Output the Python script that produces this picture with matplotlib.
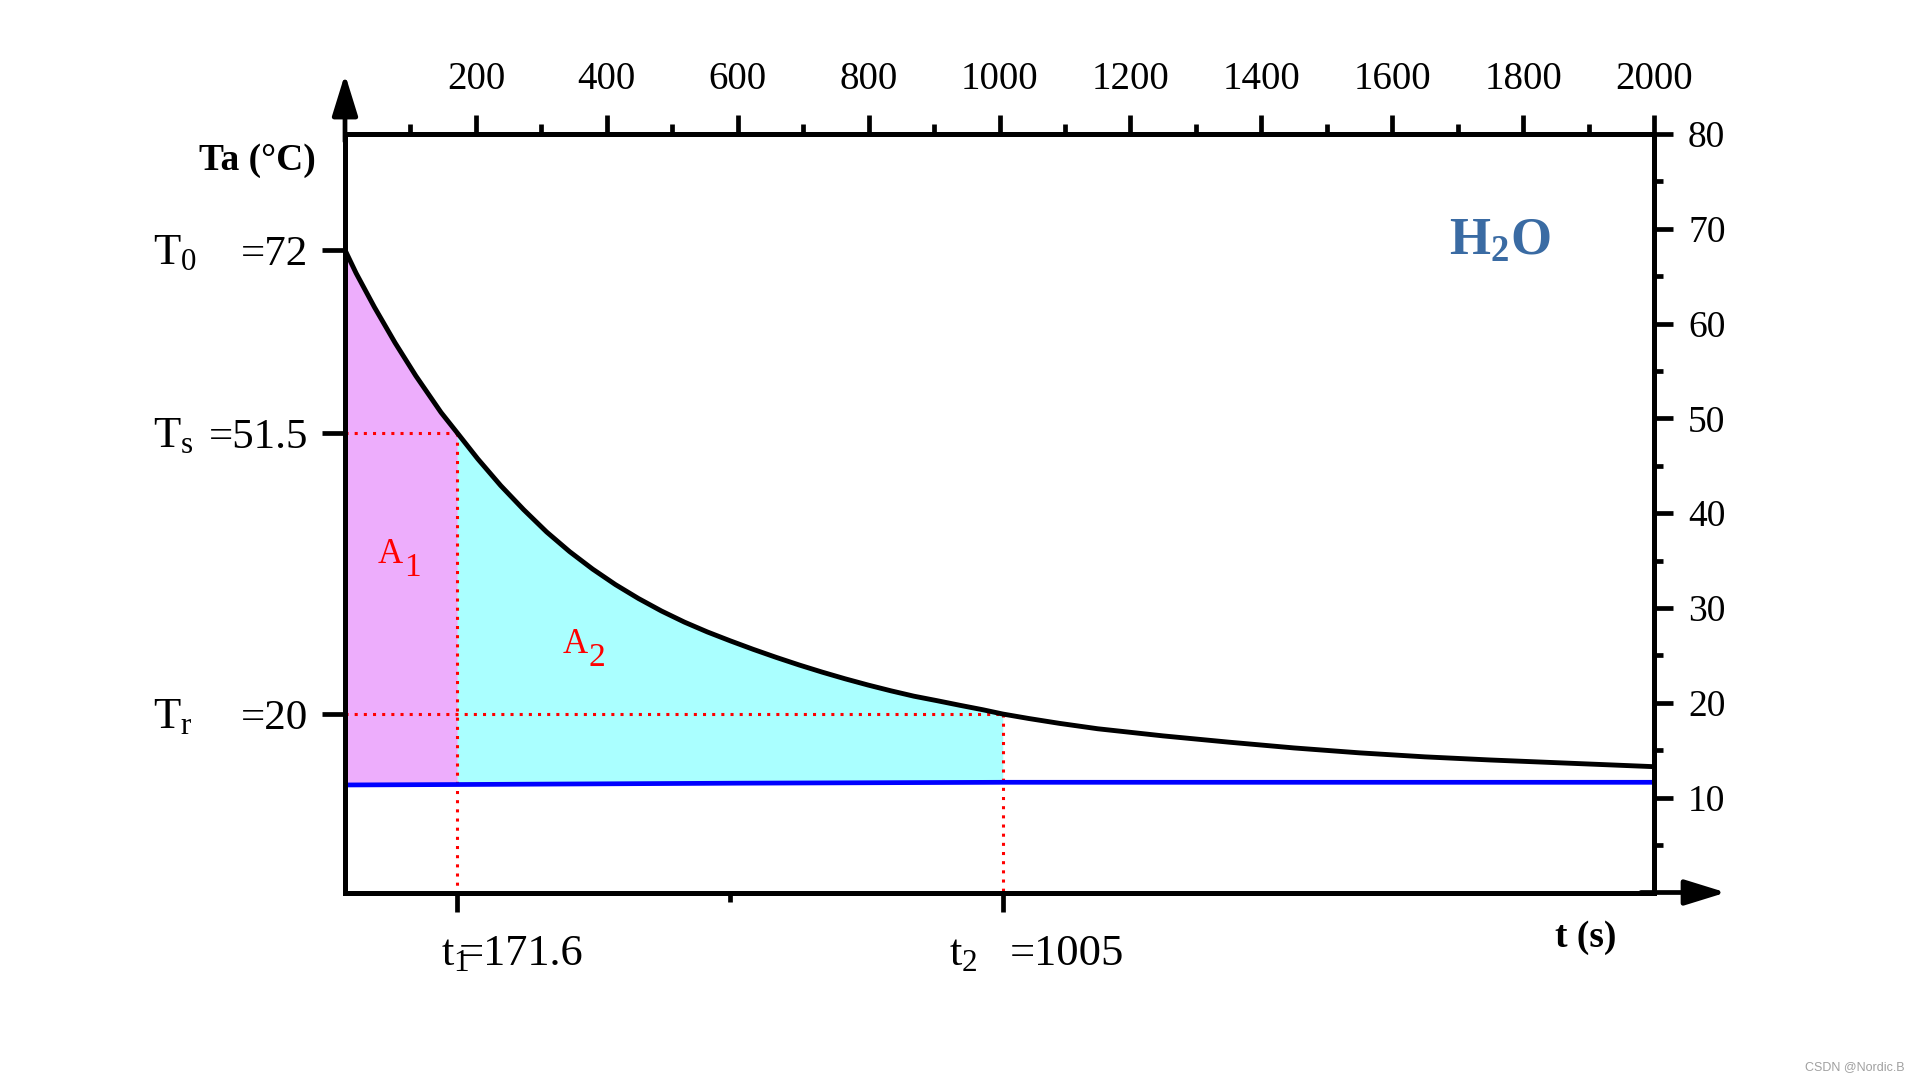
import numpy as np
import matplotlib
matplotlib.use('Agg')
import matplotlib.pyplot as plt
from matplotlib import rc
from matplotlib.ticker import FixedLocator

# cooling curve: time [s], temperature [C]
t_curve = [0, 17, 44.9, 76.5, 108.2, 146.7, 171.6, 202.8, 237.9, 273, 308.1,
           343.2, 378.2, 413.3, 448.3, 483.4, 518.6, 553.6, 588.7, 623.7,
           658.8, 693.8, 728.9, 764, 799.1, 834.2, 869.2, 904.3, 939.4,
           974.5, 1005, 1044.6, 1092, 1150, 1250, 1350, 1450, 1550, 1650,
           1750, 1850, 1950, 2000]
T_curve = [72.0, 69.4, 65.6, 61.6, 57.9, 53.8, 51.5, 48.6, 45.6, 42.9, 40.4,
           38.2, 36.25, 34.5, 32.95, 31.55, 30.3, 29.2, 28.2, 27.25,
           26.35, 25.5, 24.7, 23.95, 23.25, 22.6, 22.0, 21.5, 20.98,
           20.48, 20.0, 19.5, 18.95, 18.35, 17.55, 16.85, 16.2, 15.65, 15.2,
           14.85, 14.55, 14.25, 14.1]

# blue base line
t_base = [0, 171.6, 600, 1005, 1500, 2000]
T_base = [12.05, 12.1, 12.25, 12.35, 12.35, 12.35]

t1, t2 = 171.6, 1005
T0, Ts, Tr = 72, 51.5, 20
top_ticks = list(range(200, 2001, 200))
right_ticks = list(range(10, 81, 10))

rc('font', family='Liberation Serif')
rc('mathtext', fontset='custom', rm='Liberation Serif',
   it='Liberation Serif:italic', bf='Liberation Serif:bold')

fig = plt.figure(figsize=(19.2, 10.8), dpi=100)
ax = fig.add_axes([345 / 1920, 1 - 892.5 / 1080, 1309 / 1920, 758.5 / 1080])
ax.set_xlim(0, 2000)
ax.set_ylim(0, 85)

t = np.array(t_curve)
T = np.array(T_curve)
base = np.interp(t, t_base, T_base)

ax.fill_between(t, base, T, where=(t <= t1), color='#EDADFC', lw=0, zorder=1)
ax.fill_between(t, base, T, where=(t >= t1) & (t <= t2), color='#AAFFFF',
                lw=0, zorder=1)

dot = dict(color='red', lw=2.2, ls=(0, (1, 2)), zorder=2)
ax.plot([0, t1], [Ts, Ts], **dot)
ax.plot([t1, t1], [Ts, 0], **dot)
ax.plot([0, t2], [Tr, Tr], **dot)
ax.plot([t2, t2], [Tr, 0], **dot)

ax.plot(t_curve, T_curve, color='black', lw=3.5, zorder=3,
        solid_joinstyle='round')
ax.plot(t_base, T_base, color='#0000FF', lw=3.4, zorder=4)

# twin axes: right temperature scale, top time scale
ax2 = ax.twinx()
ax2.set_ylim(0, 80)
ax3 = ax.twiny()
ax3.set_xlim(0, 2000)

for a in (ax, ax2, ax3):
    for s in a.spines.values():
        s.set_linewidth(3.4)

ax.set_yticks([Tr, Ts, T0])
ax.set_yticklabels(['=20', '=51.5', '=72'])
ax.tick_params(axis='y', which='major', direction='out', length=16.5,
               width=3.4, labelsize=31, pad=10, right=False)
ax.set_xticks([t1, t2])
ax.set_xticks([(t1 + t2) / 2], minor=True)
ax.tick_params(axis='x', which='major', direction='out', length=14,
               width=3.4, labelbottom=False, top=False)
ax.tick_params(axis='x', which='minor', direction='out', length=6.5,
               width=3.4, top=False)

ax2.set_yticks(right_ticks)
ax2.yaxis.set_minor_locator(FixedLocator(np.arange(5, 80, 10)))
ax2.tick_params(axis='y', which='major', direction='out', length=13.5,
                width=3.4, labelsize=27, pad=11)
ax2.tick_params(axis='y', which='minor', direction='out', length=6.5,
                width=3.4)

ax3.set_xticks(top_ticks)
ax3.xaxis.set_minor_locator(FixedLocator(np.arange(100, 2000, 200)))
ax3.tick_params(axis='x', which='major', direction='out', length=14,
                width=3.4, labelsize=28, pad=12)
ax3.tick_params(axis='x', which='minor', direction='out', length=7,
                width=3.4)

# axis arrows
arw = dict(arrowstyle='-|>,head_length=0.42,head_width=0.13', lw=3.4,
           color='black', mutation_scale=60, shrinkA=0, shrinkB=0)
ax.annotate('', xy=(0, 1.079), xytext=(0, 0.99), xycoords='axes fraction',
            arrowprops=arw, annotation_clip=False)
ax.annotate('', xy=(1.055, 0), xytext=(0.99, 0), xycoords='axes fraction',
            arrowprops=arw, annotation_clip=False)

# left T labels
for lab, yv in [(r'$\mathregular{T_0}$', T0), (r'$\mathregular{T_s}$', Ts),
                (r'$\mathregular{T_r}$', Tr)]:
    ax.annotate(lab, xy=(-0.1467, yv), xycoords=('axes fraction', 'data'),
                xytext=(0, -10), textcoords='offset points',
                fontsize=32, ha='left', va='baseline', annotation_clip=False)

# bottom t labels
ax.text(0.0733, -0.0956, r'$\mathregular{t_1}$', transform=ax.transAxes,
        fontsize=32, ha='left', va='baseline')
ax.text(0.0866, -0.0956, '=171.6', transform=ax.transAxes,
        fontsize=32, ha='left', va='baseline')
ax.text(0.4614, -0.0956, r'$\mathregular{t_2}$', transform=ax.transAxes,
        fontsize=32, ha='left', va='baseline')
ax.text(0.5080, -0.0956, '=1005', transform=ax.transAxes,
        fontsize=32, ha='left', va='baseline')

ax.text(-0.0222, 0.9525, 'Ta (°C)', transform=ax.transAxes, fontsize=27,
        fontweight='bold', ha='right', va='baseline')
ax.text(0.9244, -0.0719, 't (s)', transform=ax.transAxes, fontsize=27,
        fontweight='bold', ha='left', va='baseline')

ax.text(0.882, 0.8405, r'$\mathregular{H_2O}$', transform=ax.transAxes,
        fontsize=38, fontweight='bold', color='#3A6BA3', ha='center',
        va='baseline')

# area labels
for x0, y0, sub in [(50.4, 36.9, '1'), (333, 26.8, '2')]:
    ax.text(x0, y0, 'A', color='red', fontsize=25, ha='left',
            va='baseline', zorder=5)
    ax.annotate(sub, xy=(x0, y0), xytext=(18.5, -9), textcoords='offset points',
                color='red', fontsize=24, ha='left', va='baseline', zorder=5)

fig.text(0.992, 0.009, 'CSDN @Nordic.B', fontsize=9, color='#A0A0A0',
         family='Liberation Sans', ha='right', va='baseline')

plt.savefig('out.png', dpi=100)
